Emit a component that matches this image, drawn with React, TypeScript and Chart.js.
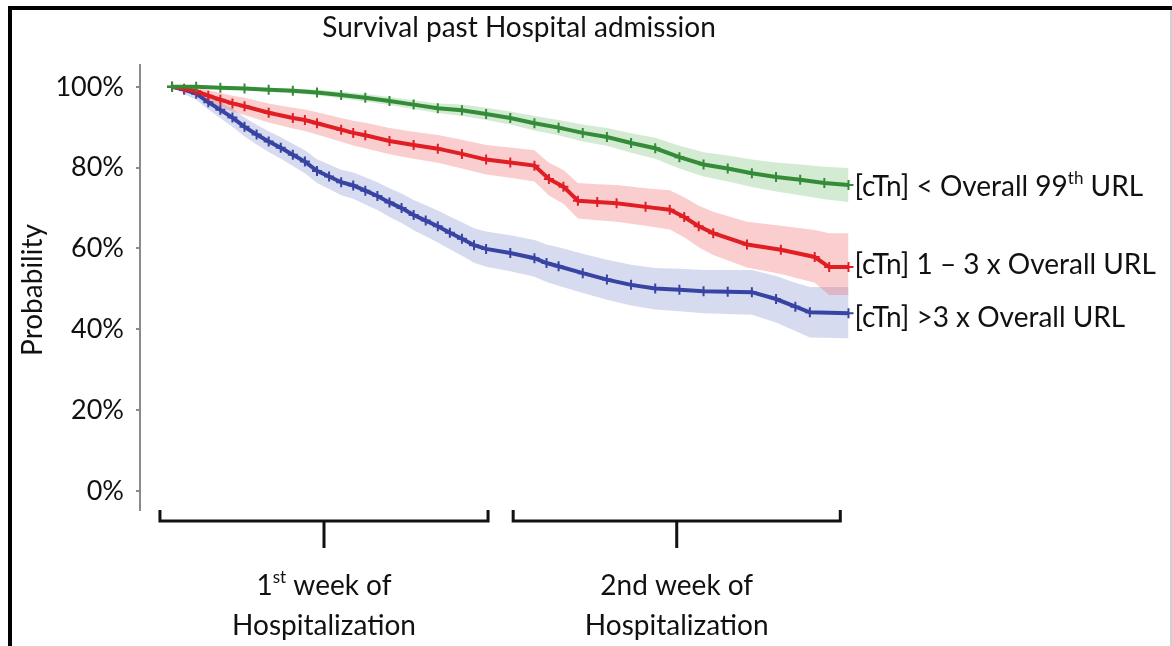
import React, { useEffect, useRef } from "react";
import { Chart, registerables } from "chart.js";

Chart.register(...registerables);

// ---------- data ----------
const chartTitle = "Survival past Hospital admission";
const yAxisTitle = "Probability";
const yTicks = [0, 20, 40, 60, 80, 100];

const seriesLabels = [
  "[cTn] < Overall 99^th^ URL",
  "[cTn] 1 \u2013 3 x Overall URL",
  "[cTn] >3 x Overall URL",
];

// time in days since admission
const greenTimes = [0, 0.5, 1, 1.5, 2, 2.5, 3, 3.5, 4, 4.5, 5, 5.5, 6, 6.5, 7, 7.5, 8, 8.5, 9, 9.5, 10, 10.5, 11, 11.5, 12, 12.5, 13, 13.5, 14];
const greenSurv = [100, 100, 99.8, 99.6, 99.3, 99.0, 98.6, 98.0, 97.3, 96.5, 95.6, 94.7, 94.2, 93.3, 92.3, 91.0, 89.9, 88.6, 87.6, 86.1, 84.8, 82.6, 80.8, 79.8, 78.6, 77.7, 77.0, 76.2, 75.7];
const greenUpper = [100, 100, 100, 100, 99.8, 99.6, 99.3, 98.8, 98.2, 97.5, 96.7, 95.9, 95.6, 94.8, 93.9, 92.8, 91.8, 90.7, 89.8, 88.5, 87.4, 85.4, 83.8, 83.0, 82.0, 81.3, 80.8, 80.2, 79.9];
const greenLower = [100, 99.8, 99.5, 99.2, 98.8, 98.4, 97.9, 97.2, 96.4, 95.5, 94.5, 93.5, 92.8, 91.8, 90.7, 89.2, 88.0, 86.5, 85.4, 83.7, 82.2, 79.8, 77.8, 76.6, 75.2, 74.1, 73.2, 72.2, 71.5];

const redTimes = [0, 0.25, 0.5, 0.75, 1, 1.25, 1.5, 2, 2.5, 2.75, 3, 3.5, 3.75, 4, 4.5, 5, 5.5, 6, 6.5, 7, 7.5, 7.8, 8.1, 8.4, 8.8, 9.2, 9.8, 10.3, 10.6, 10.9, 11.2, 11.9, 12.6, 13.3, 13.6, 14];
const redSurv = [100, 99.5, 98.9, 97.8, 96.8, 95.9, 95.2, 93.6, 92.3, 91.8, 91.0, 89.4, 88.6, 88.0, 86.6, 85.6, 84.7, 83.4, 82.0, 81.3, 80.5, 77.2, 75.3, 71.8, 71.5, 71.2, 70.3, 69.6, 67.8, 65.5, 63.8, 61.0, 59.7, 57.9, 55.4, 55.4];
const redUpper = [100, 100, 99.8, 99.2, 98.5, 97.8, 97.3, 95.9, 94.8, 94.4, 93.7, 92.3, 91.6, 91.1, 89.8, 88.9, 88.1, 86.9, 85.6, 85.0, 84.3, 81.2, 79.4, 76.2, 75.9, 75.7, 74.9, 74.4, 72.7, 70.6, 69.1, 66.6, 65.6, 64.6, 63.8, 63.8];
const redLower = [100, 98.8, 97.8, 96.3, 95.0, 93.9, 93.0, 91.2, 89.7, 89.1, 88.2, 86.4, 85.5, 84.8, 83.3, 82.2, 81.2, 79.8, 78.3, 77.5, 76.6, 73.1, 71.1, 67.4, 67.0, 66.6, 65.6, 64.7, 62.8, 60.3, 58.4, 55.3, 53.7, 51.5, 48.5, 48.5];

const blueTimes = [0, 0.25, 0.5, 0.75, 1, 1.25, 1.5, 1.75, 2, 2.25, 2.5, 2.75, 3, 3.25, 3.5, 3.75, 4, 4.25, 4.5, 4.75, 5, 5.25, 5.5, 5.75, 6, 6.25, 6.5, 7, 7.5, 7.75, 8, 8.5, 9, 9.5, 10, 10.5, 11, 11.5, 12, 12.5, 12.9, 13.2, 14];
const blueSurv = [100, 99.3, 98.3, 96.2, 94.3, 92.4, 90.1, 88.2, 86.5, 84.9, 83.2, 81.5, 79.2, 77.8, 76.4, 75.6, 74.3, 73.0, 71.4, 70.0, 68.3, 66.9, 65.5, 63.9, 62.4, 60.8, 59.9, 58.9, 57.6, 56.4, 55.6, 53.9, 52.3, 51.0, 50.1, 49.8, 49.4, 49.3, 49.2, 47.5, 45.6, 44.2, 44.0];
const blueUpper = [100, 100, 99.6, 97.9, 96.3, 94.6, 92.4, 90.6, 89.0, 87.5, 85.9, 84.3, 82.1, 80.8, 79.5, 78.8, 77.6, 76.4, 74.9, 73.6, 72.0, 70.7, 69.4, 67.9, 66.5, 65.0, 64.2, 63.3, 62.1, 61.0, 60.3, 58.7, 57.2, 56.0, 55.2, 55.0, 54.7, 54.7, 54.7, 53.2, 51.5, 50.5, 50.5];
const blueLower = [100, 98.2, 96.8, 94.4, 92.2, 90.1, 87.7, 85.7, 83.9, 82.2, 80.4, 78.6, 76.2, 74.7, 73.2, 72.3, 70.9, 69.5, 67.8, 66.3, 64.5, 63.0, 61.5, 59.8, 58.2, 56.5, 55.5, 54.4, 53.0, 51.7, 50.8, 49.0, 47.3, 45.9, 44.9, 44.5, 44.0, 43.8, 43.6, 41.7, 39.6, 38.0, 37.8];

// week brackets (days)
const weekStarts = [-0.25, 7.06];
const weekEnds = [6.54, 13.83];
const weekLabelLine1 = ["1^st^ week of", "2nd week of"];
const weekLabelLine2 = ["Hospitalization", "Hospitalization"];

// ---------- style ----------
const FONT = "Lato, 'Open Sans', sans-serif";
const lineColors = ["rgb(52,140,56)", "rgb(224,30,36)", "rgb(56,68,164)"];
const bandColors = ["rgba(110,185,110,0.30)", "rgba(240,110,110,0.34)", "rgba(110,125,200,0.28)"];

function pts(t: number[], v: number[]) {
  return t.map((x, i) => ({ x, y: v[i] }));
}

function drawRich(ctx: CanvasRenderingContext2D, text: string, x: number, y: number, size: number, align: "left" | "center") {
  const parts = text.split("^");
  const supSize = Math.round(size * 0.62);
  let total = 0;
  parts.forEach((p, i) => {
    ctx.font = `${i % 2 ? supSize : size}px ${FONT}`;
    total += ctx.measureText(p).width;
  });
  let cx = align === "center" ? x - total / 2 : x;
  ctx.textAlign = "left";
  ctx.textBaseline = "middle";
  parts.forEach((p, i) => {
    const sup = i % 2 === 1;
    ctx.font = `${sup ? supSize : size}px ${FONT}`;
    ctx.fillText(p, cx, sup ? y - size * 0.32 : y);
    cx += ctx.measureText(p).width;
  });
}

const framePlugin = {
  id: "frame",
  beforeDraw(chart: any) {
    const ctx = chart.ctx as CanvasRenderingContext2D;
    ctx.save();
    ctx.fillStyle = "#ffffff";
    ctx.fillRect(0, 0, chart.width, chart.height);
    ctx.fillStyle = "#000000";
    ctx.fillRect(8, 6, 4, chart.height - 6);
    ctx.fillRect(8, 6, chart.width - 8, 4);
    ctx.fillStyle = "#d0d0d0";
    ctx.fillRect(chart.width - 2, 10, 2, chart.height - 10);
    ctx.restore();
  },
  afterDraw(chart: any) {
    const ctx = chart.ctx as CanvasRenderingContext2D;
    const xs = chart.scales.x;
    const ys = chart.scales.y;
    ctx.save();
    ctx.fillStyle = "#111111";
    // title
    drawRich(ctx, chartTitle, 519, 28, 28, "center");
    // y title
    ctx.save();
    ctx.translate(33, 290);
    ctx.rotate(-Math.PI / 2);
    drawRich(ctx, yAxisTitle, 0, 0, 28, "center");
    ctx.restore();
    // series labels
    const ends = [greenSurv, redSurv, blueSurv];
    const offs = [2, -2, 5];
    seriesLabels.forEach((lab, i) => {
      const v = ends[i][ends[i].length - 1];
      const y = ys.getPixelForValue(v) + offs[i];
      const x = xs.getPixelForValue(14) + 6;
      drawRich(ctx, lab, x, y, 28, "left");
    });
    // week brackets
    ctx.strokeStyle = "#111111";
    ctx.lineWidth = 3;
    const by = 521;
    weekStarts.forEach((s, i) => {
      const x0 = xs.getPixelForValue(s);
      const x1 = xs.getPixelForValue(weekEnds[i]);
      const xm = (x0 + x1) / 2;
      ctx.beginPath();
      ctx.moveTo(x0, 510);
      ctx.lineTo(x0, by);
      ctx.lineTo(x1, by);
      ctx.lineTo(x1, 510);
      ctx.moveTo(xm, by);
      ctx.lineTo(xm, 548);
      ctx.stroke();
      drawRich(ctx, weekLabelLine1[i], xm, 586, 28, "center");
      drawRich(ctx, weekLabelLine2[i], xm, 626, 28, "center");
    });
    ctx.restore();
  },
};

export default function App() {
  const ref = useRef<HTMLCanvasElement | null>(null);
  useEffect(() => {
    document.body.style.margin = "0";
    const canvas = ref.current!;
    const series = [
      { t: greenTimes, s: greenSurv, u: greenUpper, l: greenLower },
      { t: redTimes, s: redSurv, u: redUpper, l: redLower },
      { t: blueTimes, s: blueSurv, u: blueUpper, l: blueLower },
    ];
    const datasets: any[] = [];
    series.forEach((sr, i) => {
      datasets.push({
        label: "upper" + i,
        data: pts(sr.t, sr.u),
        borderWidth: 0,
        pointRadius: 0,
        backgroundColor: bandColors[i],
        fill: "+1",
        order: 2,
      });
      datasets.push({
        label: "lower" + i,
        data: pts(sr.t, sr.l),
        borderWidth: 0,
        pointRadius: 0,
        fill: false,
        order: 2,
      });
    });
    series.forEach((sr, i) => {
      datasets.push({
        label: seriesLabels[i],
        data: pts(sr.t, sr.s),
        borderColor: lineColors[i],
        borderWidth: 4,
        pointStyle: "cross",
        pointRadius: 5,
        pointBorderWidth: 2,
        pointBorderColor: lineColors[i],
        fill: false,
        order: 0,
      });
    });
    const chart = new Chart(canvas, {
      type: "line",
      data: { datasets },
      plugins: [framePlugin],
      options: {
        responsive: false,
        animation: false,
        events: [],
        layout: { padding: { left: 0, top: 65, bottom: 136, right: 309 } },
        plugins: { legend: { display: false }, tooltip: { enabled: false }, title: { display: false } },
        scales: {
          x: { type: "linear", display: false, min: -0.663, max: 14.3 },
          y: {
            type: "linear",
            min: -4.7,
            max: 105.4,
            afterFit: (s: any) => { s.width = 140; },
            afterBuildTicks: (s: any) => { s.ticks = yTicks.map((v) => ({ value: v })); },
            ticks: {
              callback: (v: any) => v + "%",
              color: "#111111",
              font: { family: FONT, size: 27 },
              padding: 12,
            },
            grid: { drawOnChartArea: false, drawTicks: true, tickLength: 4, color: "#8a8a8a", lineWidth: 2 },
            border: { display: true, color: "#8a8a8a", width: 2 },
          },
        },
      },
    });
    return () => chart.destroy();
  }, []);
  return (
    <div style={{ width: 1172, height: 646, position: "relative" }}>
      <canvas ref={ref} width={1172} height={646} style={{ display: "block", width: 1172, height: 646 }} />
    </div>
  );
}
